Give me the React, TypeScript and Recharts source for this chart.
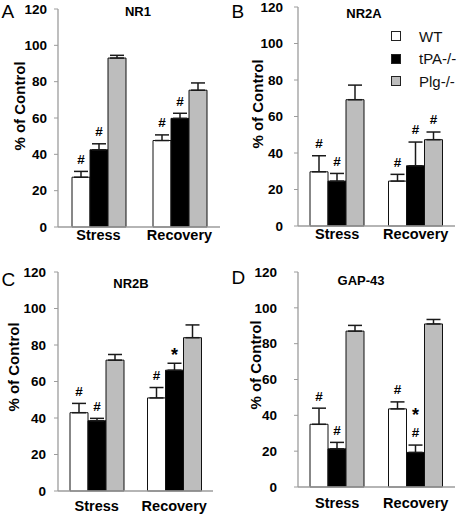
import React from 'react'
import { BarChart, Bar, XAxis, YAxis, ErrorBar, LabelList, Legend } from 'recharts'

const FONT = '"Liberation Sans", Arial, Helvetica, sans-serif'
const AXIS_GRAY = '#9c9c9c'

const CATEGORIES = ['Stress', 'Recovery']
const Y_TICKS = [0, 20, 40, 60, 80, 100, 120]

const SERIES = [
  { key: 'wt', name: 'WT', fill: '#ffffff' },
  { key: 'tpa', name: 'tPA-/-', fill: '#000000' },
  { key: 'plg', name: 'Plg-/-', fill: '#bdbdbd' },
]

// NR1
const NR1_WT = [27.4, 47.6]
const NR1_WT_ERR = [3.2, 3.1]
const NR1_TPA = [42.5, 59.8]
const NR1_TPA_ERR = [3.3, 2.8]
const NR1_PLG = [93, 75.3]
const NR1_PLG_ERR = [1.5, 4]
const NR1_MARKS = { wt: ['#', '#'], tpa: ['#', '#'], plg: ['', ''] }

// NR2A
const NR2A_WT = [29.7, 24.6]
const NR2A_WT_ERR = [8.8, 3.7]
const NR2A_TPA = [24.6, 33]
const NR2A_TPA_ERR = [4.2, 13]
const NR2A_PLG = [69.2, 47.3]
const NR2A_PLG_ERR = [8, 4.2]
const NR2A_MARKS = { wt: ['#', '#'], tpa: ['#', '#'], plg: ['', '#'] }

// NR2B
const NR2B_WT = [42.9, 51]
const NR2B_WT_ERR = [5.1, 5.7]
const NR2B_TPA = [38.5, 66.2]
const NR2B_TPA_ERR = [1.3, 3.8]
const NR2B_PLG = [71.7, 84]
const NR2B_PLG_ERR = [3.1, 7]
const NR2B_MARKS = { wt: ['#', '#'], tpa: ['#', '*'], plg: ['', ''] }

// GAP-43 (marks listed bottom to top)
const GAP43_WT = [35, 43.6]
const GAP43_WT_ERR = [9, 3.9]
const GAP43_TPA = [21.3, 19.3]
const GAP43_TPA_ERR = [3.6, 4.1]
const GAP43_PLG = [87, 91]
const GAP43_PLG_ERR = [3.2, 2.5]
const GAP43_MARKS = { wt: ['#', '#'], tpa: ['#', '#*'], plg: ['', ''] }

type Layout = {
  left: number; top: number; width: number; height: number
  yw: number; mt: number; mr: number; xh: number
  yTickMargin: number; xTickMargin: number
  letterY: number; titleX: number; titleY: number; labelX: number; labelY: number
}

const PANELS = [
  {
    letter: 'A', title: 'NR1',
    values: { wt: NR1_WT, tpa: NR1_TPA, plg: NR1_PLG },
    errors: { wt: NR1_WT_ERR, tpa: NR1_TPA_ERR, plg: NR1_PLG_ERR },
    marks: NR1_MARKS, legend: false,
    layout: { left: 0, top: 0, width: 230, height: 257, yw: 58, mt: 9, mr: 10, xh: 30, yTickMargin: 7, xTickMargin: 3, letterY: 18, titleX: 138, titleY: 11, labelX: 19, labelY: 106 },
  },
  {
    letter: 'B', title: 'NR2A',
    values: { wt: NR2A_WT, tpa: NR2A_TPA, plg: NR2A_PLG },
    errors: { wt: NR2A_WT_ERR, tpa: NR2A_TPA_ERR, plg: NR2A_PLG_ERR },
    marks: NR2A_MARKS, legend: true,
    layout: { left: 230, top: 0, width: 231, height: 257, yw: 68, mt: 7, mr: 6, xh: 31, yTickMargin: 11, xTickMargin: 3, letterY: 18, titleX: 134, titleY: 13, labelX: 27, labelY: 104 },
  },
  {
    letter: 'C', title: 'NR2B',
    values: { wt: NR2B_WT, tpa: NR2B_TPA, plg: NR2B_PLG },
    errors: { wt: NR2B_WT_ERR, tpa: NR2B_TPA_ERR, plg: NR2B_PLG_ERR },
    marks: NR2B_MARKS, legend: false,
    layout: { left: 0, top: 255, width: 230, height: 260, yw: 58, mt: 17, mr: 17, xh: 24, yTickMargin: 8, xTickMargin: 10, letterY: 31, titleX: 131, titleY: 28, labelX: 13, labelY: 112 },
  },
  {
    letter: 'D', title: 'GAP-43',
    values: { wt: GAP43_WT, tpa: GAP43_TPA, plg: GAP43_PLG },
    errors: { wt: GAP43_WT_ERR, tpa: GAP43_TPA_ERR, plg: GAP43_PLG_ERR },
    marks: GAP43_MARKS, legend: false,
    layout: { left: 230, top: 255, width: 231, height: 260, yw: 68, mt: 17, mr: 6, xh: 28, yTickMargin: 17, xTickMargin: 11, letterY: 29, titleX: 131, titleY: 25, labelX: 25, labelY: 110 },
  },
]

// # and * drawn above the error bar cap
function renderMarks(props: any, errs: number[], marks: string[]) {
  const vb = props.viewBox || props
  const x = vb.x ?? props.x
  const y = vb.y ?? props.y
  const w = vb.width ?? props.width
  const h = Math.abs(vb.height ?? props.height)
  const i = props.index
  const v = Number(props.value)
  const m = marks[i]
  if (!m || !v) return null
  const errTop = y - errs[i] * (h / v)
  return (
    <g>
      {m.split('').map((ch, k) => {
        const star = ch === '*'
        const fs = star ? 18 : 13.5
        const center = errTop - 12.5 - k * 21.5
        const base = center + (star ? 0.56 : 0.36) * fs
        return (
          <text key={k} x={x + w / 2} y={base} textAnchor="middle" fontSize={fs}
            fontWeight="bold" fontFamily={FONT} fill="#000">{ch}</text>
        )
      })}
    </g>
  )
}

function LegendBox() {
  return (
    <div style={{ fontFamily: FONT, fontSize: 15, color: '#111' }}>
      {SERIES.map((s) => (
        <div key={s.key} style={{ display: 'flex', alignItems: 'center', height: 22.5 }}>
          <span style={{ width: 8, height: 8, border: '1px solid #222', background: s.fill, display: 'inline-block', marginRight: 18 }} />
          <span>{s.name}</span>
        </div>
      ))}
    </div>
  )
}

function Panel({ p }: { p: (typeof PANELS)[number] }) {
  const L: Layout = p.layout
  const data = CATEGORIES.map((name, i) => ({
    name,
    wt: p.values.wt[i], wtErr: [0, p.errors.wt[i]],
    tpa: p.values.tpa[i], tpaErr: [0, p.errors.tpa[i]],
    plg: p.values.plg[i], plgErr: [0, p.errors.plg[i]],
  }))
  return (
    <div style={{ position: 'absolute', left: L.left, top: L.top, width: L.width, height: L.height }}>
      <BarChart width={L.width} height={L.height} data={data} barSize={18} barGap={0}
        margin={{ top: L.mt, right: L.mr, bottom: 0, left: 0 }}>
        <XAxis dataKey="name" height={L.xh} tickLine={false} tickSize={0} tickMargin={L.xTickMargin}
          axisLine={{ stroke: AXIS_GRAY, strokeWidth: 1.3 }}
          tick={{ fill: '#000', fontSize: 14.5, fontWeight: 'bold', fontFamily: FONT }} />
        <YAxis width={L.yw} domain={[0, 120]} ticks={Y_TICKS} interval={0} tickSize={4}
          tickMargin={L.yTickMargin}
          axisLine={{ stroke: AXIS_GRAY, strokeWidth: 1.3 }}
          tickLine={{ stroke: AXIS_GRAY }}
          tick={{ fill: '#000', fontSize: 13.5, fontWeight: 'bold', fontFamily: FONT }} />
        {p.legend && (
          <Legend layout="vertical" align="center" verticalAlign="middle" content={<LegendBox />}
            wrapperStyle={{ left: 161, top: 25, width: 70, height: 70 }} />
        )}
        {SERIES.map((s) => (
          <Bar key={s.key} dataKey={s.key} name={s.name} fill={s.fill} stroke="#111" strokeWidth={1}
            isAnimationActive={false}>
            <ErrorBar dataKey={s.key + 'Err'} width={7} stroke="#1a1a1a" strokeWidth={1.5} direction="y" />
            <LabelList dataKey={s.key}
              content={(lp: any) => renderMarks(lp, (p.errors as any)[s.key], (p.marks as any)[s.key])} />
          </Bar>
        ))}
      </BarChart>
      <svg width={L.width} height={L.height}
        style={{ position: 'absolute', left: 0, top: 0, pointerEvents: 'none' }}>
        <text x={1.5} y={L.letterY} fontSize={19} fontFamily={FONT} fill="#000">{p.letter}</text>
        <text x={L.titleX} y={L.titleY} textAnchor="middle" dominantBaseline="central" fontSize={13}
          fontWeight="bold" fontFamily={FONT} fill="#000">{p.title}</text>
        <text x={L.labelX} y={L.labelY} textAnchor="middle" dominantBaseline="central" fontSize={15}
          fontWeight="bold" fontFamily={FONT} fill="#000"
          transform={`rotate(-90 ${L.labelX} ${L.labelY})`}>% of Control</text>
      </svg>
    </div>
  )
}

export default function App() {
  return (
    <div style={{ position: 'absolute', left: 0, top: 0, width: 461, height: 515, background: '#fff', overflow: 'hidden' }}>
      {PANELS.map((p) => (
        <Panel key={p.letter} p={p} />
      ))}
    </div>
  )
}
